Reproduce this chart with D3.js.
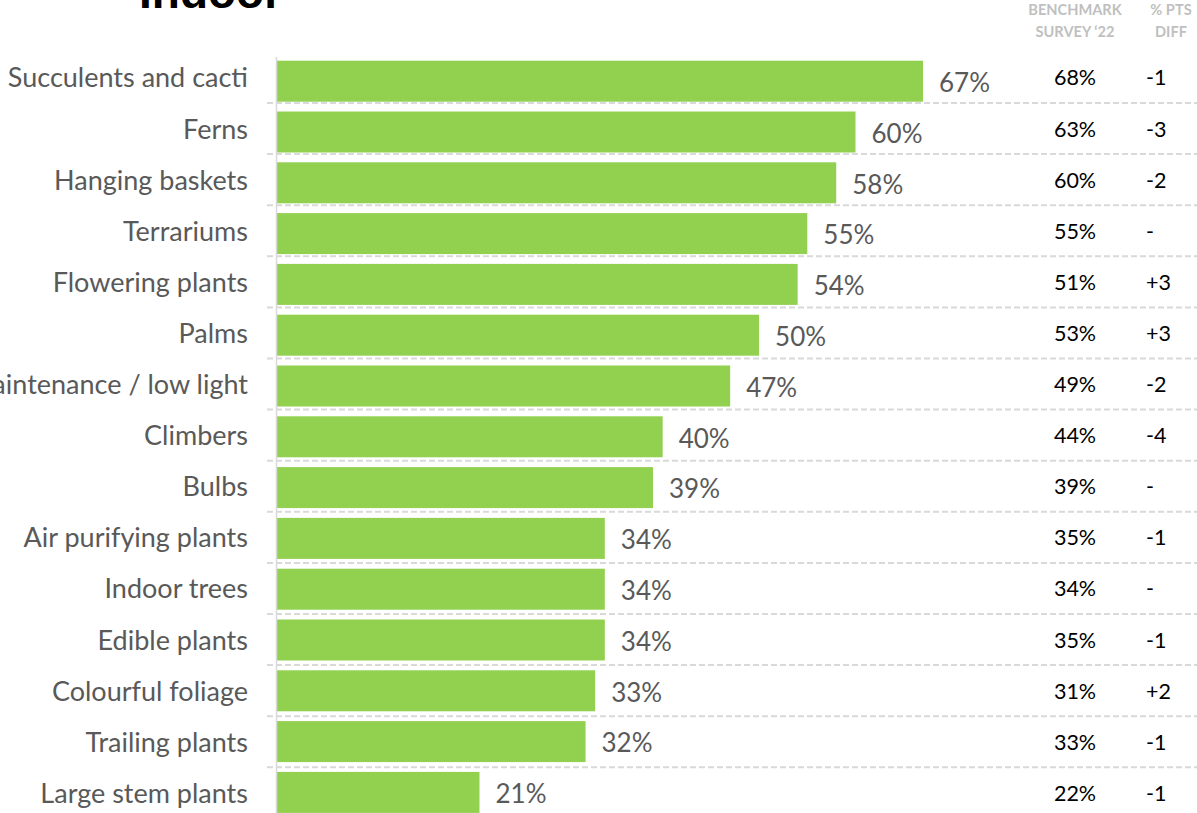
<!DOCTYPE html>
<html>
<head>
<meta charset="utf-8">
<script src="https://cdn.jsdelivr.net/npm/d3@7"></script>
<style>
  html, body { margin: 0; padding: 0; background: #ffffff; overflow: hidden; }
  svg { display: block; }
</style>
</head>
<body>
<svg id="chart" width="1197" height="813"></svg>
<script>
// Indoor plant categories, current share vs. the 2022 benchmark survey
const categories = [
  "Succulents and cacti", "Ferns", "Hanging baskets", "Terrariums",
  "Flowering plants", "Palms", "Low maintenance / low light", "Climbers",
  "Bulbs", "Air purifying plants", "Indoor trees", "Edible plants",
  "Colourful foliage", "Trailing plants", "Large stem plants"
];
const values = [67, 60, 58, 55, 54, 50, 47, 40, 39, 34, 34, 34, 33, 32, 21];
const benchmark = [68, 63, 60, 55, 51, 53, 49, 44, 39, 35, 34, 35, 31, 33, 22];
const diffs = ["-1", "-3", "-2", "-", "+3", "+3", "-2", "-4", "-", "-1", "-", "-1", "+2", "-1", "-1"];
const headerBenchmark = ["BENCHMARK", "SURVEY \u201822"];
const headerDiff = ["% PTS", "DIFF"];
const title = "Indoor";

const svg = d3.select("#chart");
const FONT = "Lato, 'Open Sans', sans-serif";

// Bar rows
const barStep = 50.8;
const y = d3.scaleBand()
  .domain(categories)
  .range([55.8, 55.8 + categories.length * barStep])
  .paddingInner(0.193)
  .paddingOuter(0.0965);

// Table rows (left labels, benchmark columns, separators)
const rowStep = 51.1;
const row = d3.scaleBand()
  .domain(categories)
  .range([51.9, 51.9 + categories.length * rowStep]);

const x = d3.scaleLinear().domain([0, 67]).range([277, 923]);

// Title
svg.append("text")
  .attr("x", 139).attr("y", 8)
  .attr("font-family", "'Liberation Sans', Arial, sans-serif")
  .attr("font-weight", "bold")
  .attr("font-size", 46)
  .attr("fill", "#000")
  .text(title);

// Column headers
const headers = svg.append("g")
  .attr("font-family", FONT)
  .attr("font-weight", "bold")
  .attr("font-size", 14.6)
  .attr("fill", "#bfbfbf")
  .attr("text-anchor", "middle");
headers.selectAll("text.hb").data(headerBenchmark).join("text")
  .attr("class", "hb")
  .attr("x", 1075).attr("y", (d, i) => 15 + i * 22)
  .text(d => d);
headers.selectAll("text.hd").data(headerDiff).join("text")
  .attr("class", "hd")
  .attr("x", 1171).attr("y", (d, i) => 15 + i * 22)
  .text(d => d);

// Dashed row separators
svg.append("g").selectAll("line")
  .data(categories.slice(0, -1))
  .join("line")
  .attr("x1", 267).attr("x2", 1197)
  .attr("y1", d => row(d) + row.bandwidth())
  .attr("y2", d => row(d) + row.bandwidth())
  .attr("stroke", "#d9d9d9")
  .attr("stroke-width", 2)
  .attr("stroke-dasharray", "6,3");

// Bars
svg.append("g").selectAll("rect")
  .data(categories)
  .join("rect")
  .attr("x", x(0))
  .attr("y", d => y(d))
  .attr("width", (d, i) => x(values[i]) - x(0))
  .attr("height", y.bandwidth())
  .attr("fill", "#92d050");

// Vertical axis line
svg.append("line")
  .attr("x1", 276.5).attr("x2", 276.5)
  .attr("y1", 57).attr("y2", 813)
  .attr("stroke", "#d9d9d9")
  .attr("stroke-width", 1.5);

// Category labels
svg.append("g").selectAll("text")
  .data(categories)
  .join("text")
  .attr("x", 248)
  .attr("y", d => row(d) + row.bandwidth() / 2 + 10)
  .attr("text-anchor", "end")
  .attr("font-family", FONT)
  .attr("font-size", 27)
  .attr("fill", "#595959")
  .text(d => d);

// Value labels at bar ends
svg.append("g").selectAll("text")
  .data(categories)
  .join("text")
  .attr("x", (d, i) => x(values[i]) + 16)
  .attr("y", d => y(d) + y.bandwidth() / 2 + 10.7)
  .attr("font-family", FONT)
  .attr("font-size", 26)
  .attr("fill", "#595959")
  .text((d, i) => values[i] + "%");

// Benchmark column
svg.append("g").selectAll("text")
  .data(categories)
  .join("text")
  .attr("x", 1075)
  .attr("y", d => row(d) + row.bandwidth() / 2 + 8)
  .attr("text-anchor", "middle")
  .attr("font-family", FONT)
  .attr("font-size", 21.5)
  .attr("fill", "#000")
  .text((d, i) => benchmark[i] + "%");

// Difference column
svg.append("g").selectAll("text")
  .data(categories)
  .join("text")
  .attr("x", 1146)
  .attr("y", d => row(d) + row.bandwidth() / 2 + 8)
  .attr("font-family", FONT)
  .attr("font-size", 21.5)
  .attr("fill", "#000")
  .text((d, i) => diffs[i]);
</script>
</body>
</html>
